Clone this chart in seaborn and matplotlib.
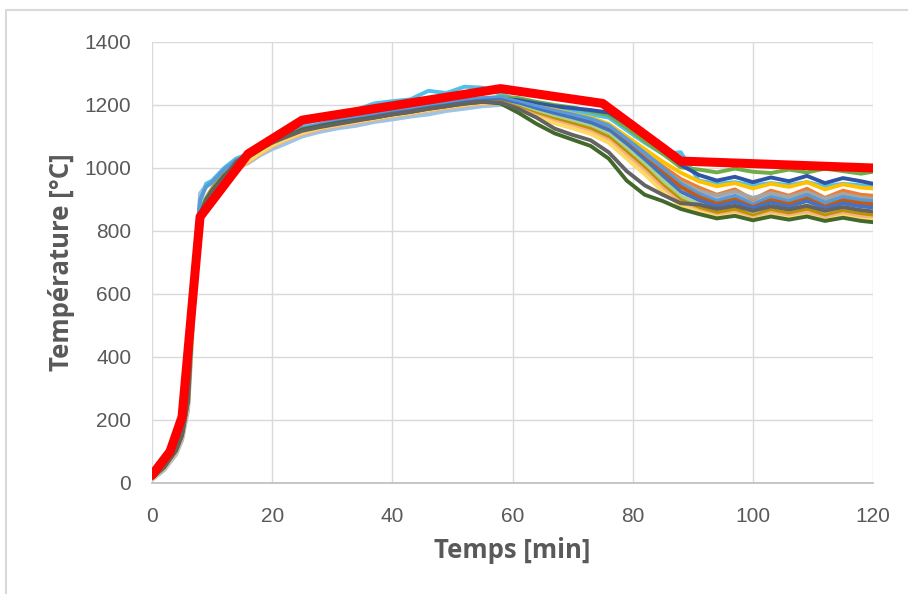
import numpy as np
import pandas as pd
import matplotlib
matplotlib.use("Agg")
import matplotlib.pyplot as plt
from matplotlib.patches import Rectangle
import seaborn as sns

# time axis shared by the measured curves [min]
TIME = [0, 2, 4, 5, 6, 7, 8, 9, 10, 12, 14, 16, 18, 20, 22, 25,
        28, 31, 34, 37, 40, 43, 46, 49, 52, 55, 58,
        61, 64, 67, 70, 73, 76, 79, 82, 85, 88,
        91, 94, 97, 100, 103, 106, 109, 112, 115, 118, 120]

S01 = [18, 52, 108, 155, 270, 640, 860, 905, 935, 980, 1015, 1030, 1062, 1085, 1098, 1122,
       1138, 1150, 1158, 1170, 1178, 1186, 1195, 1203, 1212, 1220, 1226,
       1222, 1210, 1200, 1192, 1180, 1168, 1128, 1085, 1045, 1002,
       995, 986, 998, 988, 984, 995, 986, 998, 990, 982, 988]
S02 = [16, 50, 104, 150, 262, 610, 845, 895, 925, 970, 1005, 1028, 1055, 1078, 1095, 1118,
       1132, 1144, 1152, 1162, 1172, 1180, 1190, 1198, 1208, 1215, 1220,
       1215, 1205, 1196, 1190, 1184, 1176, 1140, 1100, 1055, 1010,
       978, 960, 972, 955, 970, 958, 975, 952, 968, 958, 950]
S03 = [15, 48, 100, 148, 255, 600, 840, 890, 920, 965, 1000, 1025, 1050, 1075, 1092, 1115,
       1130, 1140, 1150, 1160, 1170, 1178, 1188, 1196, 1205, 1212, 1215,
       1208, 1195, 1185, 1172, 1160, 1140, 1100, 1060, 1020, 985,
       958, 942, 952, 935, 950, 940, 955, 932, 948, 938, 935]
S04 = [17, 51, 106, 152, 265, 630, 855, 900, 932, 978, 1012, 1032, 1058, 1082, 1100, 1124,
       1136, 1146, 1156, 1166, 1176, 1184, 1194, 1202, 1210, 1216, 1218,
       1205, 1190, 1178, 1165, 1152, 1130, 1090, 1045, 1005, 965,
       938, 915, 932, 900, 928, 912, 934, 905, 928, 915, 912]
S05 = [14, 47, 98, 145, 250, 590, 835, 885, 915, 960, 998, 1022, 1048, 1072, 1090, 1112,
       1128, 1138, 1148, 1158, 1168, 1176, 1186, 1194, 1202, 1208, 1210,
       1198, 1182, 1168, 1155, 1140, 1118, 1075, 1035, 995, 955,
       928, 912, 925, 905, 920, 908, 924, 902, 918, 906, 902]
S06 = [20, 56, 112, 160, 290, 700, 900, 940, 955, 995, 1025, 1040, 1065, 1088, 1105, 1128,
       1140, 1152, 1162, 1172, 1182, 1190, 1200, 1208, 1216, 1222, 1224,
       1210, 1196, 1182, 1170, 1156, 1135, 1092, 1048, 1000, 950,
       918, 896, 912, 886, 908, 895, 915, 890, 908, 898, 895]
S07 = [15, 49, 102, 150, 258, 615, 848, 893, 922, 968, 1003, 1027, 1053, 1077, 1094, 1117,
       1131, 1142, 1151, 1161, 1171, 1179, 1189, 1197, 1206, 1212, 1214,
       1200, 1184, 1170, 1156, 1142, 1120, 1078, 1030, 985, 940,
       908, 886, 900, 876, 898, 885, 903, 878, 897, 888, 885]
S08 = [16, 50, 103, 151, 260, 620, 850, 896, 926, 972, 1008, 1030, 1056, 1080, 1096, 1120,
       1134, 1145, 1153, 1163, 1173, 1181, 1191, 1199, 1208, 1214, 1216,
       1202, 1186, 1172, 1158, 1144, 1120, 1075, 1025, 975, 925,
       898, 878, 892, 872, 890, 877, 895, 872, 888, 878, 875]
S09 = [14, 46, 97, 144, 248, 585, 832, 882, 912, 958, 995, 1020, 1046, 1070, 1088, 1110,
       1126, 1136, 1146, 1156, 1166, 1174, 1184, 1192, 1200, 1206, 1208,
       1195, 1178, 1162, 1148, 1132, 1108, 1062, 1012, 960, 910,
       885, 866, 880, 858, 877, 865, 882, 860, 874, 864, 860]
S10 = [15, 48, 101, 149, 256, 605, 842, 890, 920, 964, 1000, 1024, 1050, 1074, 1091, 1114,
       1129, 1139, 1149, 1159, 1169, 1177, 1187, 1195, 1203, 1209, 1210,
       1192, 1172, 1155, 1140, 1124, 1098, 1050, 1000, 945, 898,
       875, 857, 870, 848, 867, 855, 870, 849, 864, 854, 850]
S11 = [13, 45, 96, 142, 245, 580, 830, 880, 910, 955, 992, 1018, 1044, 1068, 1086, 1108,
       1124, 1134, 1144, 1154, 1164, 1172, 1182, 1190, 1198, 1204, 1206,
       1188, 1166, 1148, 1132, 1115, 1088, 1040, 990, 935, 888,
       864, 848, 858, 840, 857, 846, 858, 840, 854, 844, 840]
S12 = [14, 47, 99, 146, 252, 595, 838, 887, 917, 962, 998, 1022, 1048, 1072, 1089, 1112,
       1127, 1137, 1147, 1157, 1167, 1175, 1185, 1193, 1201, 1207, 1207,
       1185, 1162, 1142, 1126, 1108, 1080, 1030, 980, 925, 880,
       860, 844, 852, 836, 850, 840, 850, 834, 847, 836, 834]
S13 = [16, 50, 104, 152, 262, 625, 852, 898, 928, 975, 1010, 1034, 1058, 1082, 1098, 1122,
       1133, 1143, 1152, 1160, 1170, 1178, 1188, 1196, 1204, 1210, 1205,
       1175, 1140, 1110, 1090, 1070, 1030, 960, 915, 895, 870,
       854, 840, 848, 834, 846, 836, 846, 832, 842, 832, 828]
S14 = [15, 49, 102, 150, 258, 612, 846, 894, 924, 970, 1020, 1045, 1060, 1080, 1096, 1118,
       1130, 1140, 1150, 1160, 1170, 1178, 1188, 1196, 1205, 1210, 1208,
       1188, 1160, 1125, 1105, 1088, 1050, 990, 945, 915, 888,
       884, 870, 880, 864, 878, 868, 880, 864, 876, 866, 862]
S15 = [18, 55, 110, 158, 280, 680, 890, 950, 960, 1000, 1030, 1045, 1075, 1100, 1115, 1140,
       1155, 1172, 1185, 1205, 1212, 1218, 1245, 1238, 1258, 1255, 1235,
       1215, 1200, 1190, 1180, 1170, 1160, 1120, 1080, 1045, 1050,
       960, 950, 955, 945, 952, 946, 955, 942, 950, 945, 940]
S16 = [10, 40, 90, 135, 230, 560, 920, 945, 950, 982, 1005, 1015, 1040, 1060, 1075, 1100,
       1115, 1126, 1134, 1146, 1154, 1163, 1170, 1181, 1188, 1196, 1200,
       1200, 1185, 1172, 1160, 1148, 1126, 1085, 1040, 995, 945,
       912, 905, 910, 900, 908, 903, 910, 898, 906, 900, 896]

SERIES = [S16, S15, S01, S02, S03, S04, S05, S06, S07, S08, S09, S10, S11, S12, S13, S14]
COLORS = ['#9DC3E6', '#4FC1E9', '#70AD47', '#2F55A4', '#FFC000', '#ED7D31', '#A5A5A5',
          '#5B9BD5', '#C55A11', '#4472C4', '#A9D18E', '#BF9000', '#F4B183', '#FFD966',
          '#43682B', '#636363']

# reference fire curve (thick red)
REF_TIME = [0, 3, 5, 8, 16, 25, 58, 75, 88, 120]
REF_TEMP = [25, 100, 210, 845, 1045, 1152, 1252, 1205, 1022, 1000]

rows = []
for i, s in enumerate(SERIES):
    for t, v in zip(TIME, s):
        rows.append((f"TC{i+1}", t, v))
df = pd.DataFrame(rows, columns=["serie", "temps", "temp"])
ref = pd.DataFrame({"temps": REF_TIME, "temp": REF_TEMP})

sns.set_theme(style="white")
plt.rcParams['font.family'] = ['Liberation Sans', 'DejaVu Sans']

fig = plt.figure(figsize=(9.08, 5.94), dpi=100)
ax = fig.add_axes([0.1674, 0.1869, 0.7941, 0.7424])

sns.lineplot(data=df, x="temps", y="temp", hue="serie", palette=COLORS,
             linewidth=2.8, legend=False, sort=False, estimator=None, ax=ax)
sns.lineplot(data=ref, x="temps", y="temp", color='#FF0000', linewidth=6.5,
             sort=False, estimator=None, ax=ax)

ax.set_xlim(0, 120)
ax.set_ylim(0, 1400)
ax.set_xticks(range(0, 121, 20))
ax.set_yticks(range(0, 1401, 200))
ax.grid(True, color='#D9D9D9', linewidth=1)
ax.set_axisbelow(True)
for sp in ax.spines.values():
    sp.set_visible(False)
ax.spines['bottom'].set_visible(True)
ax.spines['bottom'].set_color('#BFBFBF')
ax.tick_params(axis='both', length=0, labelsize=15, labelcolor='#595959')
ax.tick_params(axis='x', pad=17)
ax.tick_params(axis='y', pad=15)

label_font = dict(family=['Open Sans', 'DejaVu Sans'], size=18.5, weight='bold', color='#595959')
ax.set_xlabel("Temps [min]", fontdict=label_font, labelpad=8)
ax.set_ylabel("Température [°C]", fontdict=label_font, labelpad=7)

# outer chart frame
fig.patches.append(Rectangle((6 / 908, -0.05), 1.1, 1 - 10 / 594 + 0.05,
                             transform=fig.transFigure, fill=False,
                             edgecolor='#D9D9D9', linewidth=1.5))

fig.savefig("out.png", dpi=100)
